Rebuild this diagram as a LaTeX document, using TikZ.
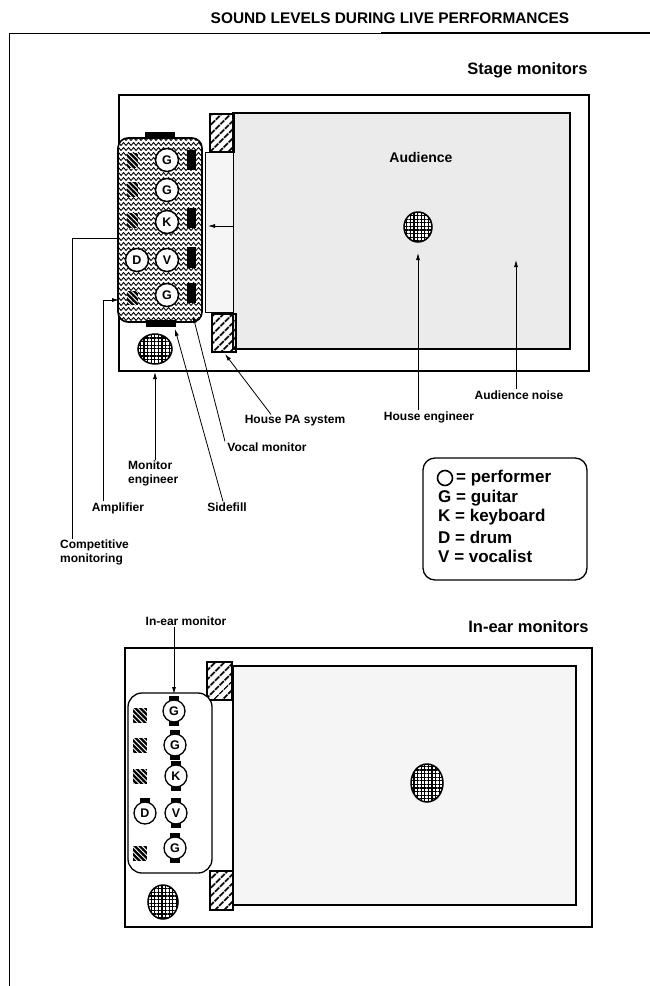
\documentclass[tikz,border=0pt]{standalone}
\usepackage{fontspec}
\setmainfont{Liberation Sans}
\usetikzlibrary{positioning,arrows.meta,patterns.meta,decorations.pathmorphing}

\tikzset{
  title/.style={font=\bfseries\fontsize{15.4}{17}\selectfont},
  head/.style={font=\bfseries\fontsize{16.5}{19}\selectfont, anchor=east},
  lbl/.style={font=\bfseries\fontsize{12}{14}\selectfont, inner sep=1pt, align=left},
  legend/.style={font=\bfseries\fontsize{17}{19}\selectfont, inner sep=0pt, anchor=west},
  lead/.style={line width=0.8pt, -{Latex[length=7pt,width=4pt]}},
  wire/.style={line width=0.8pt},
  room/.style={draw, line width=1.3pt},
  audience/.style={draw, line width=1.5pt, fill=black!8},
  pa/.style={draw, line width=1.2pt, pattern={Lines[angle=45,distance=6.5pt,line width=2pt]}},
  amp/.style={fill=black, postaction={pattern={Lines[angle=-45,distance=3.5pt,line width=0.9pt]}, pattern color=white}},
  wedge/.style={fill=black},
  perf/.style={circle, draw, line width=1.5pt, fill=white, minimum size=23pt, inner sep=0pt, font=\bfseries\fontsize{12.5}{12.5}\selectfont},
  ear/.style={circle, draw, line width=1.3pt, fill=white, minimum size=22pt, inner sep=0pt, font=\bfseries\fontsize{12.5}{12.5}\selectfont},
  eng/.style={draw, line width=1.5pt, preaction={fill=white}, pattern={Hatch[distance=3.6pt,line width=1.2pt]}},
}

\begin{document}
\begin{tikzpicture}[x=1pt,y=-1pt]
\useasboundingbox (0,0) rectangle (650,986);

% frame and title
\node[title] (ttl) at (390,18) {SOUND LEVELS DURING LIVE PERFORMANCES};
\draw[line width=0.6pt] (9,986) -- (9,33) -- (381,33);
\draw[line width=1.8pt] (381,33) -- (650,33);

% ---------- stage monitors
\node[head] (stg) at (591,70) {Stage monitors};
\draw[room] (119,95) rectangle (589,371);
\draw[audience] (233,113) rectangle (570,349);
\draw[line width=0.8pt, fill=black!4] (205,152) rectangle (233,312);
\path[pa] (210,114) rectangle (234,152);
\path[pa] (212,314) rectangle (236,352);
\node[font=\bfseries\fontsize{14}{16}\selectfont] (aud) at (421,157) {Audience};
\draw[eng] (418,227) ellipse [x radius=14pt, y radius=15pt];
\draw[eng] (155,349) ellipse [x radius=17pt, y radius=15pt];

% wavy stage area
\begin{scope}
  \clip[rounded corners=10pt] (118,138) rectangle (202,322);
  \fill[white] (118,138) rectangle (202,322);
  \foreach \y in {139,144,...,324}
    \draw[line width=0.9pt, decorate, decoration={snake, amplitude=1.5pt, segment length=5pt}] (112,\y) -- (208,\y);
\end{scope}
\draw[line width=1.6pt, rounded corners=10pt] (118,138) rectangle (202,322);
\fill[wedge] (145,132) rectangle (175,139);
\fill[wedge] (146,320) rectangle (176,327);
\foreach \ya/\yb in {150/170, 208/228, 247/268, 283/303}
  \fill[wedge] (187,\ya) rectangle (196,\yb);
\foreach \ya/\yb in {153/168, 182/197, 213/228, 291/305}
  \path[amp] (127,\ya) rectangle (138,\yb);

\node[perf] (g1) at (167,160) {G};
\node[perf] (g2) at (167,190) {G};
\node[perf] (k) at (167,222) {K};
\node[perf] (v) at (167,260) {V};
\node[perf] (d) at (137,260) {D};
\node[perf] (g3) at (167,295) {G};

% labels and leaders
\node[lbl] (hpa) at (295,421) {House PA system};
\node[lbl] (vmon) at (267,447) {Vocal monitor};
\node[lbl] (side) at (227,507) {Sidefill};
\node[lbl] (heng) at (429,417) {House engineer};
\node[lbl] (anoise) at (519,395) {Audience noise};
\node[lbl, anchor=north west] (meng) at (127,460) {Monitor\\engineer};
\node[lbl] (ampl) at (118,508) {Amplifier};
\node[lbl, anchor=north west] (comp) at (59,539) {Competitive\\monitoring};

\coordinate (hpa-t) at (225,354);
\coordinate (vmon-t) at (193,316);
\coordinate (side-t) at (175,329);
\coordinate (heng-t) at (418,253);
\coordinate (anoise-t) at (516,260);
\coordinate (meng-t) at (155,372);
\coordinate (ampl-t) at (119,300);
\coordinate (comp-t) at (118,238);
\coordinate (spill-s) at (233,226);
\coordinate (spill-t) at (208,226);

\draw[lead] ([xshift=-24pt]hpa.north) -- (hpa-t);
\draw[lead] ([xshift=-42pt]vmon.north) -- (vmon-t);
\draw[lead] ([xshift=-4pt]side.north) -- (side-t);
\draw[lead] ([xshift=-11pt]heng.north) -- (heng-t);
\draw[lead] ([xshift=-3pt]anoise.north) -- (anoise-t);
\draw[lead] (meng.north -| meng-t) -- (meng-t);
\draw[lead] ([xshift=-15pt]ampl.north) |- (ampl-t);
\draw[wire] ([xshift=-22pt]comp.north) |- (comp-t);
\draw[lead] (spill-s) -- (spill-t);

% ---------- legend
\draw[line width=1.3pt, rounded corners=12pt] (423,458) rectangle (587,580);
\node[circle, draw, line width=1.6pt, minimum size=15pt, inner sep=0pt] (lcirc) at (445,478) {};
\node[legend] (lperf) at (456,478) {= performer};
\node[legend] (lg) at (438,498) {G = guitar};
\node[legend] (lk) at (438,517) {K = keyboard};
\node[legend] (ld) at (438,537) {D = drum};
\node[legend] (lv) at (438,556) {V = vocalist};

% ---------- in-ear monitors
\node[head] (iem) at (592,627) {In-ear monitors};
\draw[room] (125,648) rectangle (592,927);
\draw[audience, fill=black!4] (233,666) rectangle (576,905);
\path[pa] (207,662) rectangle (232,700);
\path[pa] (210,871) rectangle (233,910);
\draw[eng] (427,783) ellipse [x radius=16pt, y radius=19pt];
\draw[eng] (163,902) ellipse [x radius=15pt, y radius=17pt];
\draw[line width=1.3pt, fill=white, rounded corners=14pt] (128,693) rectangle (212,873);
\foreach \ya/\yb in {708/723, 738/753, 769/784, 846/861}
  \path[amp] (133,\ya) rectangle (147,\yb);

% ear packs
\foreach \x/\y in {174/711, 175/745, 176/776, 176/813, 175/848} {
  \fill (\x-5,\y-15) rectangle (\x+5,\y-10);
  \fill (\x-5,\y+10) rectangle (\x+5,\y+15);
}
\fill (140,798) rectangle (150,803);

\node[ear] (eg1) at (174,711) {G};
\node[ear] (eg2) at (175,745) {G};
\node[ear] (ek) at (176,776) {K};
\node[ear] (ev) at (176,813) {V};
\node[ear] (ed) at (145,813) {D};
\node[ear] (eg3) at (175,848) {G};

\node[lbl] (inear) at (186,621) {In-ear monitor};
\coordinate (inear-t) at (174,694);
\draw[lead] ([xshift=-12pt]inear.south) -- (inear-t);

\end{tikzpicture}
\end{document}
